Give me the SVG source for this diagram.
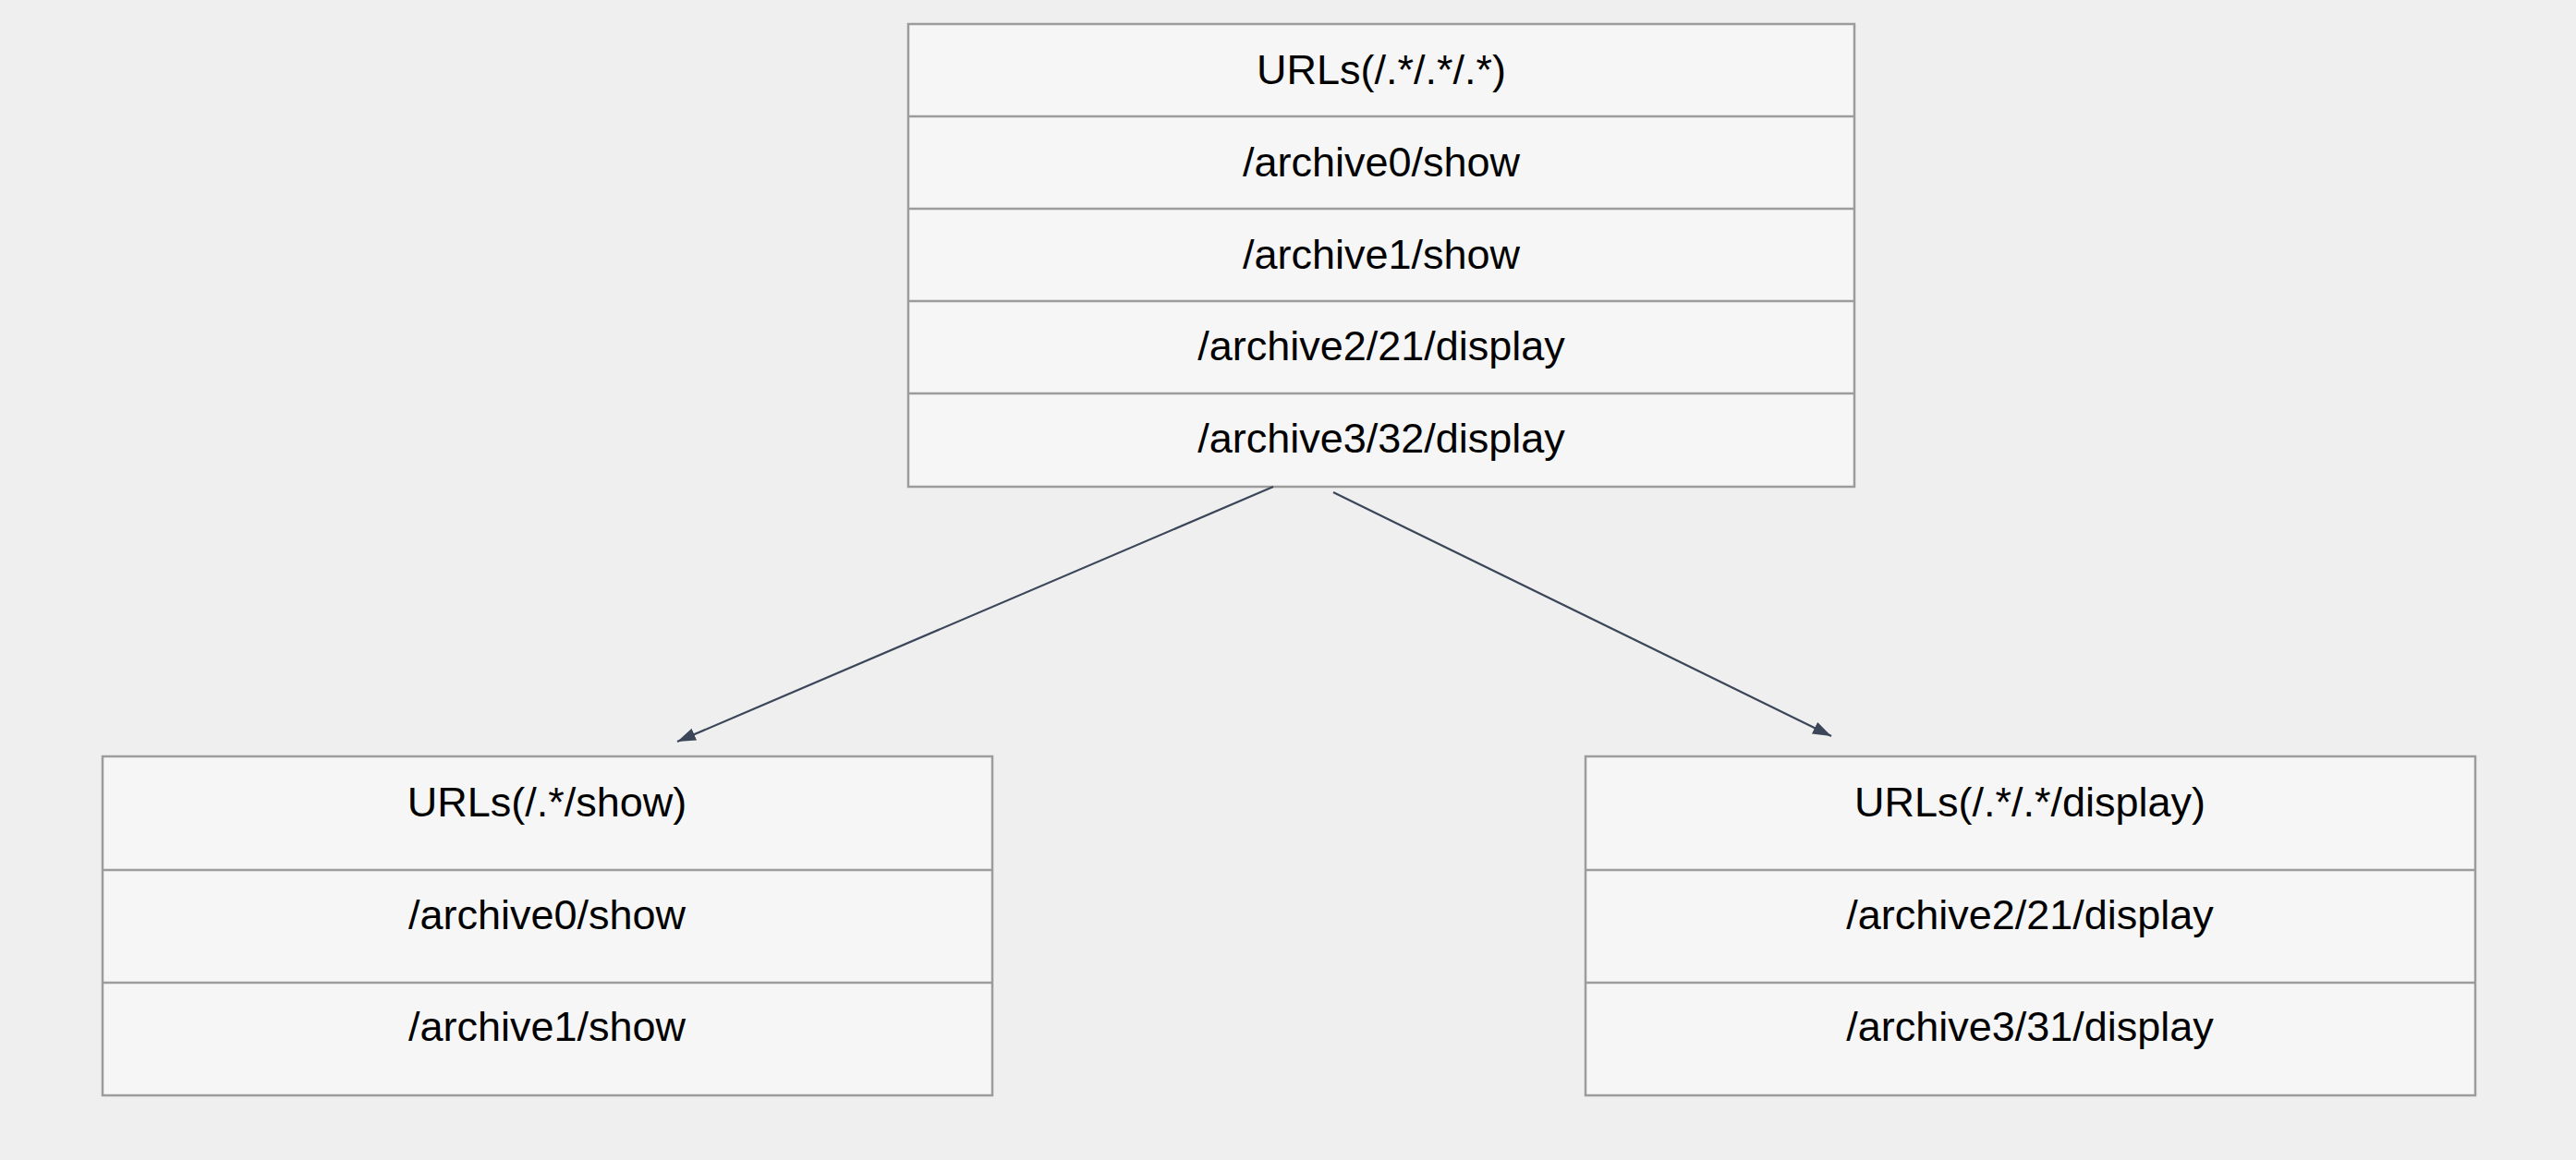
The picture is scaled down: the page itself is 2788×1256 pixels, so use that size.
<svg xmlns="http://www.w3.org/2000/svg" width="2788" height="1256" viewBox="0 0 2788 1256">
  <style>
    .box { fill: #ffffff; fill-opacity: 0.45; stroke: #9c9c9c; stroke-width: 2.5; }
    .sep { stroke: #9c9c9c; stroke-width: 2.5; }
    .lbl { font-family: "Liberation Sans", Arial, Helvetica, sans-serif; font-size: 45px; fill: #000000; text-anchor: middle; }
    .edge { stroke: #3b4658; stroke-width: 2.2; fill: none; }
  </style>
  <defs>
    <marker id="arrow" markerUnits="userSpaceOnUse" markerWidth="22" markerHeight="16" refX="20" refY="7" orient="auto">
      <path d="M0,0 L20,7 L0,14 Z" fill="#3b4658"/>
    </marker>
  </defs>
  <rect x="0" y="0" width="2788" height="1256" fill="#efefef"/>

  <g id="node-all">
    <rect class="box" x="983" y="26" width="1024" height="501"/>
    <line class="sep" x1="983" y1="126" x2="2007" y2="126"/>
    <line class="sep" x1="983" y1="226" x2="2007" y2="226"/>
    <line class="sep" x1="983" y1="326" x2="2007" y2="326"/>
    <line class="sep" x1="983" y1="426" x2="2007" y2="426"/>
    <text class="lbl" x="1495" y="91">URLs(/.*/.*/.*)</text>
    <text class="lbl" x="1495" y="191">/archive0/show</text>
    <text class="lbl" x="1495" y="291">/archive1/show</text>
    <text class="lbl" x="1495" y="390">/archive2/21/display</text>
    <text class="lbl" x="1495" y="490">/archive3/32/display</text>
  </g>

  <g id="node-show">
    <rect class="box" x="111" y="819" width="963" height="367"/>
    <line class="sep" x1="111" y1="942" x2="1074" y2="942"/>
    <line class="sep" x1="111" y1="1064" x2="1074" y2="1064"/>
    <text class="lbl" x="592" y="884">URLs(/.*/show)</text>
    <text class="lbl" x="592" y="1006">/archive0/show</text>
    <text class="lbl" x="592" y="1127">/archive1/show</text>
  </g>

  <g id="node-display">
    <rect class="box" x="1716" y="819" width="963" height="367"/>
    <line class="sep" x1="1716" y1="942" x2="2679" y2="942"/>
    <line class="sep" x1="1716" y1="1064" x2="2679" y2="1064"/>
    <text class="lbl" x="2197" y="884">URLs(/.*/.*/display)</text>
    <text class="lbl" x="2197" y="1006">/archive2/21/display</text>
    <text class="lbl" x="2197" y="1127">/archive3/31/display</text>
  </g>

  <g id="connectors">
    <line class="edge" x1="1378" y1="527" x2="733" y2="803" marker-end="url(#arrow)"/>
    <line class="edge" x1="1443" y1="533" x2="1982" y2="797" marker-end="url(#arrow)"/>
  </g>
</svg>
